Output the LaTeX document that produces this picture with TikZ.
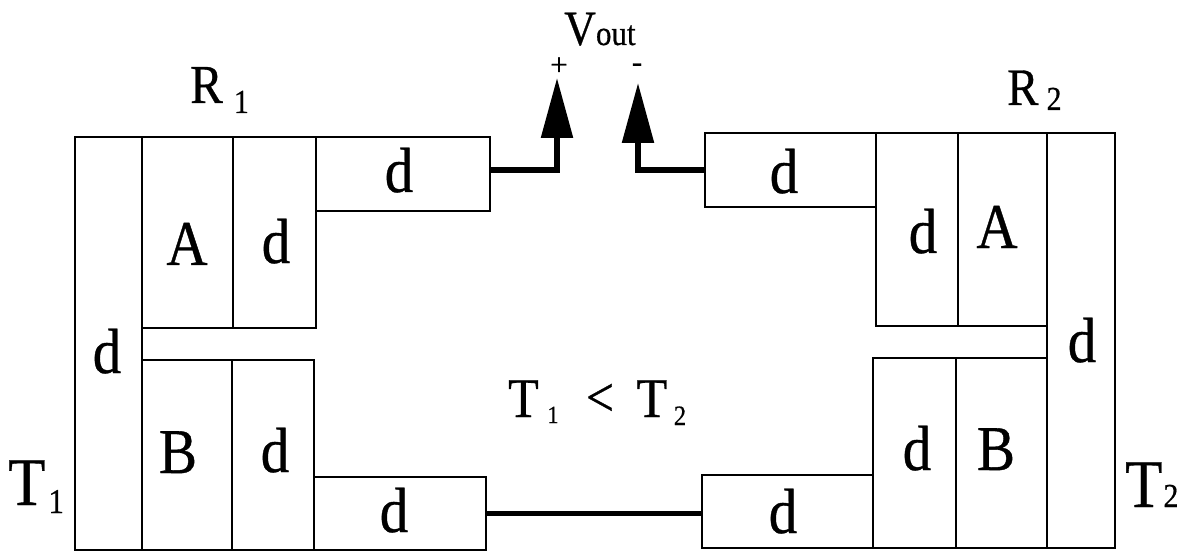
\documentclass[tikz,border=0pt]{standalone}
\usepackage{fontspec}
\usepackage{graphicx}
\setmainfont{Liberation Serif}[FakeBold=0.6]
\usetikzlibrary{fit,arrows.meta}
\newcommand\fs[1]{\fontsize{#1}{#1}\selectfont}
\newcommand\st[1]{\scalebox{1}[1.12]{#1}}
\begin{document}
\begin{tikzpicture}[x=1pt,y=-1pt,
  box/.style={draw, line width=2.2pt, inner sep=0pt},
  lab/.style={anchor=base, inner sep=0pt, font=\fs{57}},
  txt/.style={inner sep=0pt},
  wire/.style={line width=5.5pt, line join=miter},
  tip/.style={-{Triangle[width=31pt,length=60pt]}}]
\useasboundingbox (0,0) rectangle (1185,553);
% left element R1
\node[box, fit={(75,137)(142,550)}] (Lcol) {};
\node[box, fit={(142,137)(233,328)}] (LA) {};
\node[box, fit={(233,137)(316,328)}] (Ld1) {};
\node[box, fit={(316,137)(490,211)}] (LdT) {};
\node[box, fit={(142,360)(232,550)}] (LB) {};
\node[box, fit={(232,360)(314,550)}] (Ld2) {};
\node[box, fit={(314,477)(486,550)}] (LdB) {};
% right element R2
\node[box, fit={(705,133)(876,207)}] (RdT) {};
\node[box, fit={(876,133)(958,326)}] (Rd1) {};
\node[box, fit={(958,133)(1047,326)}] (RA) {};
\node[box, fit={(1047,133)(1115,548)}] (Rcol) {};
\node[box, fit={(873,358)(956,548)}] (Rd2) {};
\node[box, fit={(956,358)(1047,548)}] (RB) {};
\node[box, fit={(702,475)(873,548)}] (RdB) {};
% box labels
\node[lab] (tLdT) at (399,192) {\st{d}};
\node[lab] (tLA) at (187,265) {\st{A}};
\node[lab] (tLd1) at (276,263) {\st{d}};
\node[lab] (tLcol) at (107,373) {\st{d}};
\node[lab] (tLB) at (178,473) {\st{B}};
\node[lab] (tLd2) at (275,472) {\st{d}};
\node[lab] (tLdB) at (394,532) {\st{d}};
\node[lab] (tRdT) at (784,193) {\st{d}};
\node[lab] (tRd1) at (923,253) {\st{d}};
\node[lab] (tRA) at (997,248) {\st{A}};
\node[lab] (tRcol) at (1082,362) {\st{d}};
\node[lab] (tRd2) at (917,470) {\st{d}};
\node[lab] (tRB) at (996,470) {\st{B}};
\node[lab] (tRdB) at (783,533) {\st{d}};
% R1, R2, T1, T2
\node[txt, anchor=base west] (R1) at (190,103) {\fs{49}\st{R}\hspace{11pt}\raisebox{-10pt}{\fs{30}\st{1}}};
\node[txt, anchor=base west] (R2) at (1007,105) {\fs{47}\st{R}\hspace{8pt}\raisebox{-5pt}{\fs{30}\st{2}}};
\node[txt, anchor=base west] (T1) at (8,505) {\fs{61}\st{T}\hspace{3pt}\raisebox{-8pt}{\fs{31}\st{1}}};
\node[txt, anchor=base west] (T2) at (1125,507) {\fs{61}\st{T}\hspace{1pt}{\fs{30}\st{2}}};
% center relation
\node[txt, anchor=base west] (c1) at (508,417) {\fs{50}\st{T}};
\node[txt, anchor=base] (c2) at (553,423) {\fs{22}\st{1}};
\node[txt, anchor=base] (c3) at (600,416) {\fs{50}\st{<}};
\node[txt, anchor=base] (c4) at (652,417) {\fs{50}\st{T}};
\node[txt, anchor=base] (c5) at (680,425) {\fs{25}\st{2}};
% Vout
\node[txt, anchor=base west] (vout) at (564,45) {\fs{44}\st{V}\fs{31}\st{out}};
\node[txt, anchor=base] (plus) at (559,75) {\fs{31}+};
\node[txt, anchor=base] (minus) at (637,72) {\fs{31}-};
% wires
\coordinate (vp) at (557,78);
\coordinate (vm) at (638,83);
\draw[wire, tip] (LdT.east) ++(0,-4) -| (vp);
\draw[wire, tip] (RdT.west) -| (vm);
\draw[wire] (LdB.east) -- (LdB.east -| RdB.west);
\end{tikzpicture}
\end{document}
